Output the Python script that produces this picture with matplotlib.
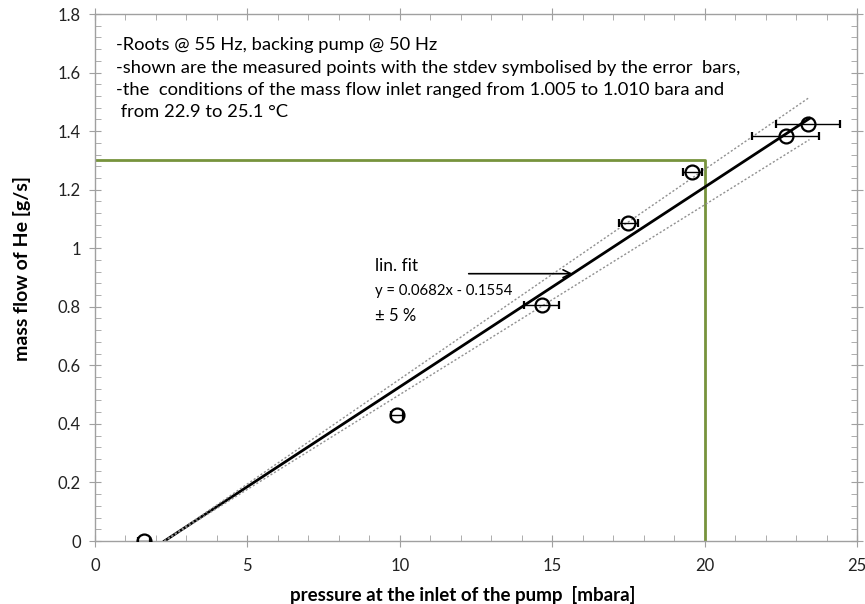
import matplotlib
matplotlib.use("Agg")
import matplotlib.pyplot as plt
import numpy as np
from matplotlib.ticker import MultipleLocator, FuncFormatter

# data
pressure = [1.6, 9.9, 14.66, 17.5, 19.6, 22.66, 23.38]
mass_flow = [0.0, 0.432, 0.806, 1.087, 1.262, 1.382, 1.426]
pressure_err = [0.2, 0.2, 0.57, 0.3, 0.3, 1.1, 1.05]
fit_slope = 0.0682
fit_intercept = -0.1554
fit_x_end = 23.44
band = 0.05
limit_pressure = 20
limit_flow = 1.3

plt.rcParams['font.family'] = ['Lato', 'DejaVu Sans']

fig = plt.figure(figsize=(8.65, 6.04), dpi=100)
ax = fig.add_axes([0.1098, 0.1043, 0.881, 0.8725])

# green limit lines
ax.plot([0, limit_pressure, limit_pressure], [limit_flow, limit_flow, 0],
        color='#77933C', lw=2, zorder=2)

# fit and band
x0 = -fit_intercept / fit_slope
xf = np.array([x0, fit_x_end])
yf = fit_slope * xf + fit_intercept
ax.plot(xf, yf, color='black', lw=2, zorder=3)
ax.plot(xf, yf * (1 + band), color='#909090', lw=1, ls=(0, (1.5, 1.5)), zorder=3)
ax.plot(xf, yf * (1 - band), color='#909090', lw=1, ls=(0, (1.5, 1.5)), zorder=3)

# measured points
ax.errorbar(pressure, mass_flow, xerr=pressure_err, fmt='o', mfc='none',
            mec='black', mew=1.6, ms=10, ecolor='black', elinewidth=1,
            capsize=3, capthick=1, color='black', zorder=4)

# arrow annotation
ax.annotate('', xy=(15.67, 0.913), xytext=(12.26, 0.913),
            arrowprops=dict(arrowstyle='->', color='black', lw=1.2,
                            shrinkA=0, shrinkB=0, mutation_scale=14))
ax.text(9.2, 0.94, 'lin. fit', fontsize=12.5, va='center', ha='left')
ax.text(9.2, 0.853, 'y = 0.0682x - 0.1554', fontsize=10.7, va='center', ha='left')
ax.text(9.2, 0.767, '± 5 %', fontsize=12, va='center', ha='left')

note = ("-Roots @ 55 Hz, backing pump @ 50 Hz\n"
        "-shown are the measured points with the stdev symbolised by the error  bars,\n"
        "-the  conditions of the mass flow inlet ranged from 1.005 to 1.010 bara and\n"
        " from 22.9 to 25.1 °C")
ax.text(0.7, 1.72, note, fontsize=13.2, va='top', ha='left', linespacing=1.47)

ax.set_xlim(0, 25)
ax.set_ylim(0, 1.8)
ax.xaxis.set_major_locator(MultipleLocator(5))
ax.xaxis.set_minor_locator(MultipleLocator(1))
ax.yaxis.set_major_locator(MultipleLocator(0.2))
ax.yaxis.set_minor_locator(MultipleLocator(0.04))
ax.yaxis.set_major_formatter(FuncFormatter(lambda v, p: ('%g' % round(v, 2))))

for s in ax.spines.values():
    s.set_color('#a0a0a0')
    s.set_linewidth(1)
ax.tick_params(which='major', direction='inout', length=8, color='#a0a0a0',
               labelsize=12, labelcolor='#222222', top=True, right=True)
ax.tick_params(which='minor', direction='in', length=4, color='#a0a0a0',
               top=True, right=True)
ax.tick_params(axis='x', which='major', pad=8)
ax.tick_params(axis='y', which='major', pad=6)

ax.set_xlabel('pressure at the inlet of the pump  [mbara]', fontsize=13.5,
              fontweight='bold')
ax.set_ylabel('mass flow of He [g/s]', fontsize=14, fontweight='bold')
ax.xaxis.set_label_coords(0.483, -0.085)
ax.yaxis.set_label_coords(-0.084, 0.518)

fig.savefig('out.png', dpi=100)
